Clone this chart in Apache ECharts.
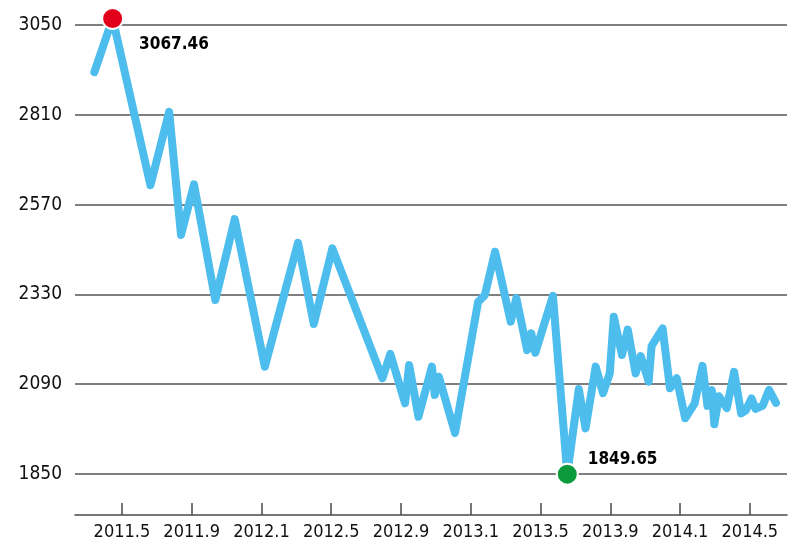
<!DOCTYPE html>
<html>
<head>
<meta charset="utf-8">
<script src="https://cdn.jsdelivr.net/npm/echarts@6/dist/echarts.min.js"></script>
<style>
html,body{margin:0;padding:0;background:#fff;}
#chart{width:800px;height:559px;}
</style>
</head>
<body>
<div id="chart"></div>
<script>
const dates = [
  '2011-03-14','2011-04-15','2011-06-20','2011-07-23','2011-08-13','2011-09-05',
  '2011-10-12','2011-11-15','2012-01-07','2012-03-04','2012-04-01','2012-05-03',
  '2012-07-30','2012-08-13','2012-09-08','2012-09-15','2012-10-01','2012-10-25',
  '2012-10-30','2012-11-06','2012-12-04','2013-01-14','2013-01-26','2013-02-12',
  '2013-03-10','2013-03-20','2013-04-08','2013-04-15','2013-04-22','2013-05-23',
  '2013-06-17','2013-07-07','2013-07-19','2013-08-06','2013-08-19','2013-08-31',
  '2013-09-07','2013-09-21','2013-10-01','2013-10-15','2013-10-24','2013-11-07',
  '2013-11-12','2013-12-01','2013-12-14','2013-12-26','2014-01-10','2014-01-27',
  '2014-02-09','2014-02-17','2014-02-24','2014-02-28','2014-03-08','2014-03-22',
  '2014-04-04','2014-04-16','2014-04-24','2014-05-04','2014-05-11','2014-05-24',
  '2014-06-04','2014-06-16'
];
const values = [
  2924, 3067.46, 2622, 2818, 2489, 2624,
  2315, 2531, 2137, 2468, 2251, 2453,
  2106, 2171, 2039, 2141, 2003, 2137,
  2061, 2110, 1960, 2310, 2328, 2444,
  2257, 2320, 2181, 2226, 2174, 2326,
  1849.65, 2077, 1972, 2137, 2066, 2119,
  2270, 2168, 2236, 2119, 2165, 2097,
  2192, 2239, 2079, 2106, 1999, 2039,
  2139, 2032, 2074, 1983, 2058, 2026,
  2123, 2012, 2020, 2052, 2024, 2033,
  2075, 2040
];
const tickLabels = ['2011.5','2011.9','2012.1','2012.5','2012.9','2013.1','2013.5','2013.9','2014.1','2014.5'];
const yMin = 1850, yMax = 3050, yStep = 240;
const baseYear = 2011;

function monthPos(s) {
  const p = s.split('-').map(Number);
  const dim = new Date(p[0], p[1], 0).getDate();
  return (p[0] - baseYear) * 12 + (p[1] - 1) + (p[2] - 1) / dim;
}
function labelPos(l) {
  const p = l.split('.').map(Number);
  return (p[0] - baseYear) * 12 + (p[1] - 1);
}
const tickVals = tickLabels.map(labelPos);
const labelMap = {};
tickLabels.forEach((l, i) => { labelMap[tickVals[i]] = l; });

const lineData = dates.map((d, i) => [monthPos(d), values[i]]);
let iMax = 0, iMin = 0;
values.forEach((v, i) => { if (v > values[iMax]) iMax = i; if (v < values[iMin]) iMin = i; });

const FONT = '"DejaVu Sans Condensed","Liberation Sans Narrow",sans-serif';

const chart = echarts.init(document.getElementById('chart'));
chart.setOption({
  animation: false,
  backgroundColor: '#ffffff',
  grid: { left: 75, right: 13, top: 25, bottom: 85, containLabel: false },
  xAxis: {
    type: 'value',
    min: 1.31,
    max: 42.13,
    offset: 41,
    axisLine: { show: true, lineStyle: { color: '#4a4a4a', width: 1.5 } },
    axisTick: { show: true, inside: true, length: 12, customValues: tickVals, lineStyle: { color: '#4a4a4a', width: 1.5 } },
    axisLabel: {
      customValues: tickVals,
      formatter: v => labelMap[v] || '',
      fontFamily: FONT, fontSize: 18, color: '#111111', margin: 8
    },
    splitLine: { show: false }
  },
  yAxis: {
    type: 'value',
    min: yMin, max: yMax, interval: yStep,
    axisLine: { show: false },
    axisTick: { show: false },
    axisLabel: { formatter: v => String(v), fontFamily: FONT, fontSize: 19, color: '#111111', margin: 13 },
    splitLine: { show: true, lineStyle: { color: '#555555', width: 1.5 } }
  },
  series: [
    {
      type: 'line',
      data: lineData,
      symbol: 'none',
      clip: false,
      lineStyle: { color: '#4dbdee', width: 8, join: 'round', cap: 'round' },
      z: 2
    },
    {
      type: 'scatter',
      symbol: 'circle',
      symbolSize: 21,
      clip: false,
      z: 5,
      itemStyle: { opacity: 1 },
      emphasis: { disabled: true },
      data: [
        {
          value: lineData[iMax],
          itemStyle: { color: '#e3001b', borderColor: '#ffffff', borderWidth: 2, opacity: 1 },
          label: { show: true, position: 'right', distance: 15, offset: [0, 26],
            formatter: values[iMax].toFixed(2), fontFamily: FONT, fontSize: 17, fontWeight: 'bold', color: '#000000', opacity: 1 }
        },
        {
          value: lineData[iMin],
          itemStyle: { color: '#0b9a3c', borderColor: '#ffffff', borderWidth: 2, opacity: 1 },
          label: { show: true, position: 'right', distance: 9, offset: [0, -15],
            formatter: values[iMin].toFixed(2), fontFamily: FONT, fontSize: 17, fontWeight: 'bold', color: '#000000', opacity: 1 }
        }
      ]
    }
  ]
});
</script>
</body>
</html>
